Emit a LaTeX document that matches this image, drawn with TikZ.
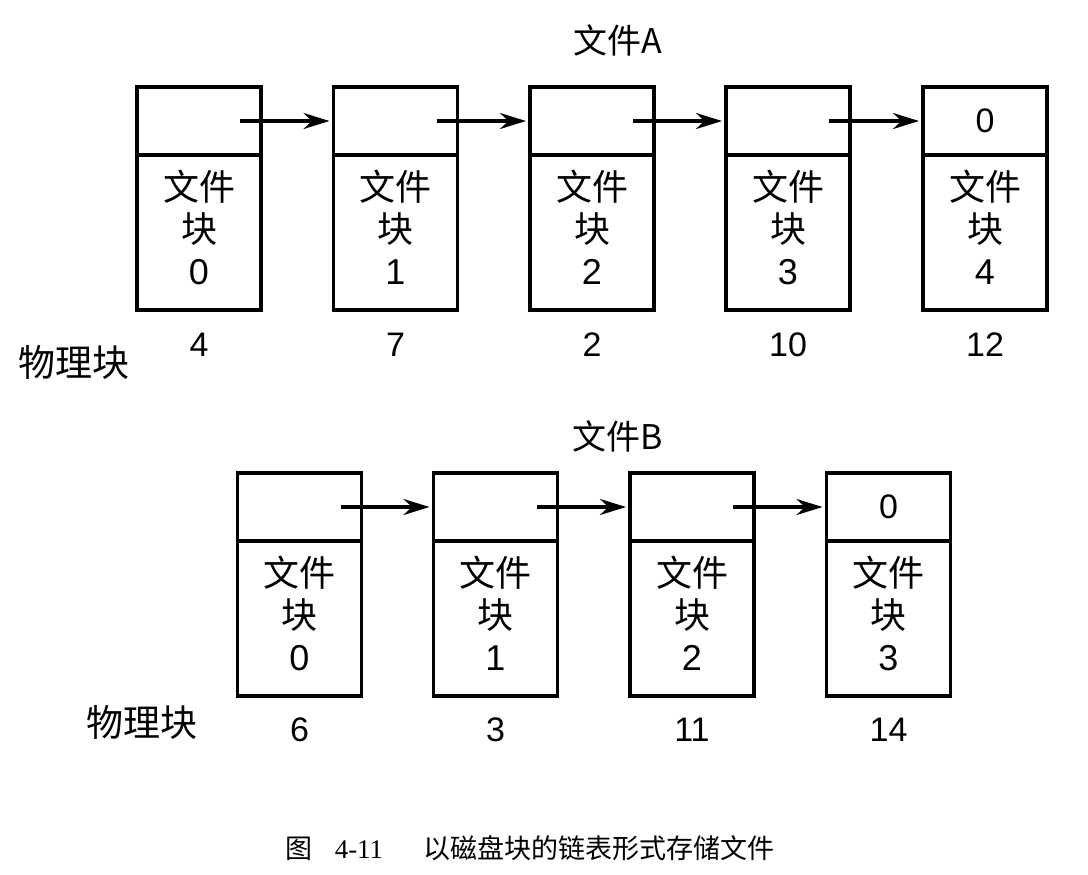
\documentclass[tikz,border=0pt]{standalone}
\usepackage{fontspec}
\setmainfont{Liberation Sans}
\newfontfamily\cjk{Noto Sans CJK SC}
\newfontfamily\capser{Liberation Serif}
\usetikzlibrary{arrows.meta}
\usetikzlibrary{positioning}

\tikzset{
  blkhead/.style={draw, line width=1.6pt, minimum width=62pt, minimum height=34pt,
    inner sep=0pt, outer sep=0pt, font=\fontsize{17}{20}\selectfont},
  blkbody/.style={draw, line width=1.6pt, minimum width=62pt, minimum height=77.5pt,
    inner sep=0pt, outer sep=0pt, align=center, font=\fontsize{18}{21}\selectfont},
  physno/.style={inner sep=0pt, font=\fontsize{17}{20}\selectfont},
  rowlabel/.style={inner sep=0pt, font=\fontsize{18.5}{20}\selectfont\cjk},
  filetitle/.style={inner sep=0pt, font=\fontsize{17}{20}\selectfont\cjk},
  link/.style={-{Stealth[length=13pt,width=8pt]}, line width=1.6pt, shorten >=2pt},
}

\begin{document}
\begin{tikzpicture}[x=0.5pt, y=-0.5pt, >=Stealth]

  \useasboundingbox (0,0) rectangle (1088,874);

  % ---------- File A ----------
  \node[filetitle] (tA) at (618,40) {文件A};

  \foreach \i/\x/\p in {0/199/4, 1/395.5/7, 2/592/2, 3/788/10, 4/985/12} {
    \node[blkhead] (hA\i) at (\x,121) {};
    \node[blkbody, below=0pt of hA\i] (bA\i) {{\cjk 文件}\\{\cjk 块}\\\i\\[-16pt]};
    \node[physno] (pA\i) at (\x,345) {\p};
  }
  \node[physno] (zA) at (hA4.center) {0};

  \foreach \i/\j in {0/1, 1/2, 2/3, 3/4}
    \draw[link] ([xshift=20.5pt]hA\i.center) -- (hA\j.west);

  \node[rowlabel] (lA) at (74,362) {物理块};

  % ---------- File B ----------
  \node[filetitle] (tB) at (618,436) {文件B};

  \foreach \i/\x/\p in {0/299.5/6, 1/495.5/3, 2/692/11, 3/888.5/14} {
    \node[blkhead] (hB\i) at (\x,507) {};
    \node[blkbody, below=0pt of hB\i] (bB\i) {{\cjk 文件}\\{\cjk 块}\\\i\\[-16pt]};
    \node[physno] (pB\i) at (\x,730) {\p};
  }
  \node[physno] (zB) at (hB3.center) {0};

  \foreach \i/\j in {0/1, 1/2, 2/3}
    \draw[link] ([xshift=20.5pt]hB\i.center) -- (hB\j.west);

  \node[rowlabel] (lB) at (142,722) {物理块};

  % ---------- Caption ----------
  \node[inner sep=0pt, font=\fontsize{13.5}{15}\selectfont] (cap) at (530,848)
    {{\cjk 图}\hspace{11pt}{\capser 4-11}\hspace{20pt}{\cjk 以磁盘块的链表形式存储文件}};

\end{tikzpicture}
\end{document}
